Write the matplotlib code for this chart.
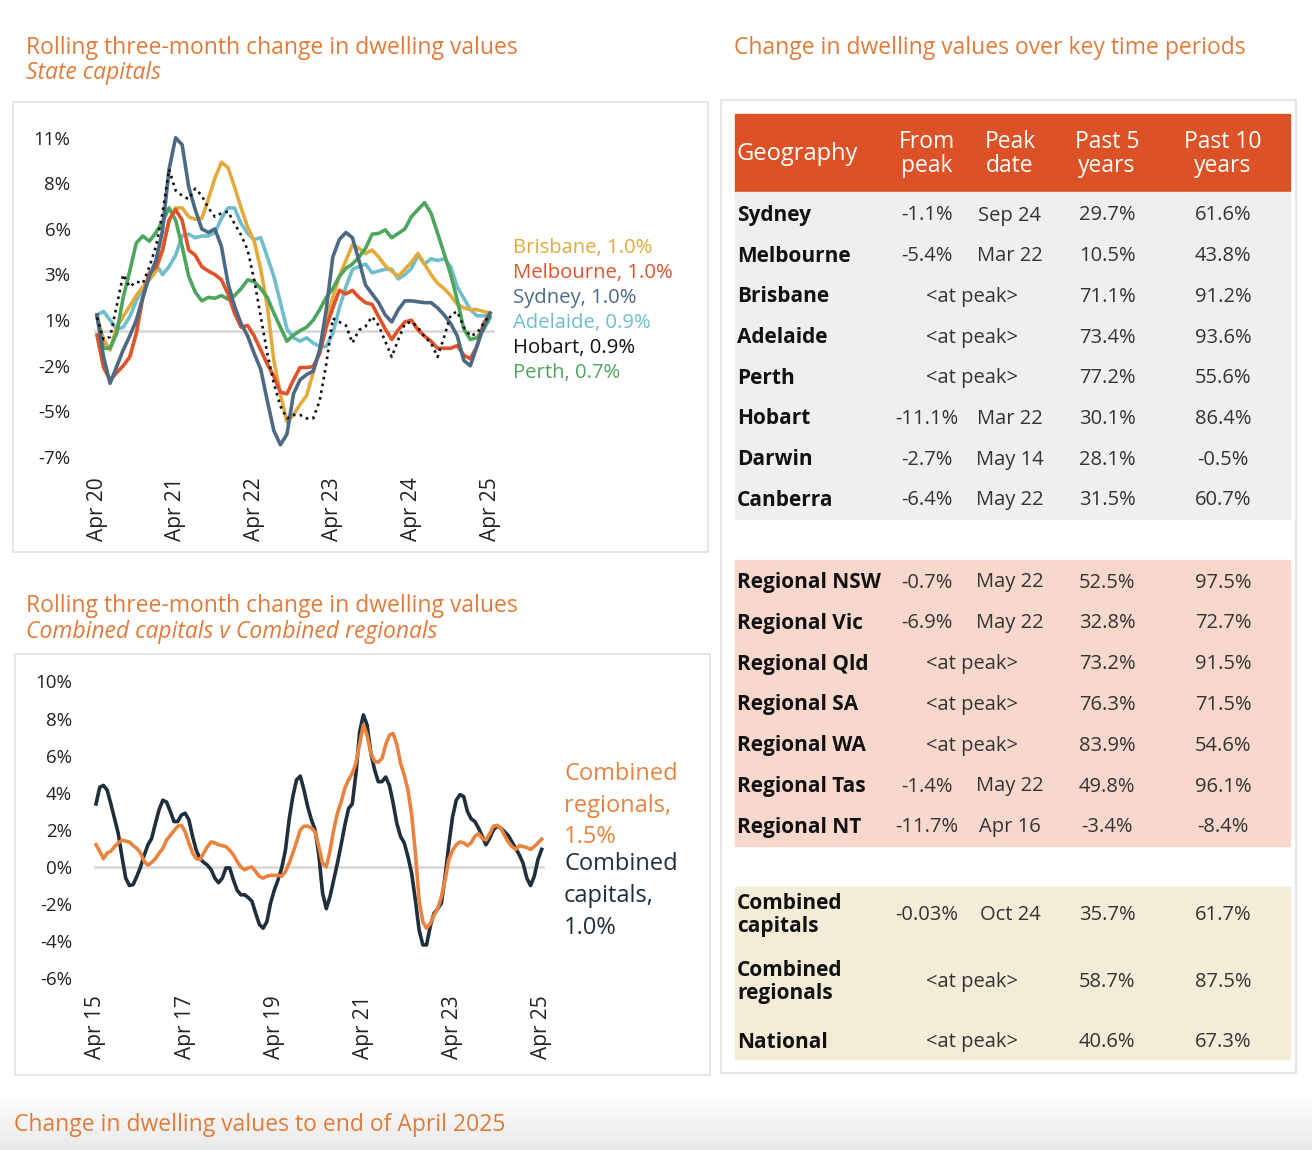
#!/usr/bin/env python3
"""Dwelling value change dashboard: two line charts and a summary table."""

import numpy as np
import matplotlib
matplotlib.use("Agg")
import matplotlib.pyplot as plt
from matplotlib.patches import Rectangle

plt.rcParams["font.family"] = ["Open Sans", "DejaVu Sans"]

W, H = 1312, 1150
ORANGE = "#e27b3a"

# ---- State capitals, rolling 3-month change (%), monthly Apr 20 .. Apr 25
state_ticks = ["Apr 20", "Apr 21", "Apr 22", "Apr 23", "Apr 24", "Apr 25"]
sydney = [0.9, -1.5, -3.0, -2.05, -1.1, -0.3, 0.6, 1.9, 3.1, 4.0, 5.7, 9.2, 11.0, 10.6,
          8.2, 6.9, 5.8, 5.6, 5.8, 4.8, 2.7, 1.4, 0.4, -0.3, -1.3, -2.2, -4.0, -5.7, -6.5,
          -5.9, -3.6, -2.8, -2.5, -2.3, -1.1, 1.2, 4.2, 5.2, 5.6, 5.3, 4.0, 2.6, 2.1, 1.6,
          0.9, 0.5, 1.2, 1.7, 1.7, 1.65, 1.6, 1.6, 1.3, 0.9, 0.4, -0.3, -1.7, -2.0, -0.9,
          0.2, 1.0]
melbourne = [-0.25, -2.1, -2.8, -2.4, -2.0, -1.5, -0.15, 1.9, 3.3, 3.6, 4.6, 6.3, 6.9, 6.3,
             4.6, 4.3, 3.65, 3.4, 3.2, 2.9, 2.1, 1.0, 0.2, 0.3, -0.3, -1.1, -1.9, -2.6, -3.5,
             -3.6, -2.8, -2.1, -2.1, -2.05, -1.3, 0.2, 1.3, 2.3, 2.1, 2.3, 1.9, 1.6, 1.5, 0.8,
             0.1, -0.5, 0.05, 0.5, 0.6, 0.05, -0.3, -0.6, -1.0, -1.0, -1.0, -0.85, -1.4, -1.6,
             -0.9, 0.4, 1.0]
brisbane = [0.8, -0.5, -1.1, 0.2, 0.8, 1.4, 2.0, 2.5, 2.9, 3.4, 4.6, 6.3, 7.0, 7.0, 6.5,
            6.35, 6.4, 7.5, 8.7, 9.6, 9.3, 8.2, 7.0, 5.9, 5.1, 3.5, 1.4, -1.7, -3.6, -5.2,
            -4.8, -4.2, -3.7, -2.4, -1.1, 0.6, 1.9, 3.1, 4.0, 4.9, 4.7, 4.4, 4.6, 4.2, 3.7,
            3.4, 3.1, 3.5, 3.9, 4.4, 3.8, 3.2, 2.7, 2.4, 2.0, 1.5, 1.3, 1.2, 1.2, 1.1, 1.0]
adelaide = [0.9, 1.1, 0.6, 0.1, 0.2, 0.8, 1.7, 2.4, 3.1, 3.8, 3.2, 3.65, 4.3, 5.4, 5.5,
            5.3, 5.4, 5.4, 5.6, 6.4, 7.0, 7.0, 6.1, 5.55, 5.2, 5.3, 4.2, 3.1, 1.6, 0.1, -0.4,
            -0.6, -0.4, -0.7, -0.9, -0.9, -0.15, 1.3, 2.5, 3.5, 3.65, 3.8, 3.3, 3.4, 3.5, 3.5,
            2.95, 3.2, 3.55, 4.3, 3.8, 4.1, 4.0, 4.1, 3.65, 2.5, 1.85, 1.2, 0.85, 0.85, 0.9]
hobart = [0.75, -0.5, -0.35, 1.4, 3.2, 2.5, 2.8, 2.7, 3.65, 4.8, 6.7, 9.2, 8.0, 7.7, 7.5,
          8.1, 7.7, 7.0, 6.5, 6.7, 6.8, 6.1, 5.45, 4.6, 2.9, 0.8, -1.3, -3.0, -4.3, -5.0,
          -4.8, -4.8, -5.0, -5.0, -4.0, -1.9, 0.7, 0.5, 0.3, -0.7, 0.04, 0.25, 0.8, 0.3,
          -0.6, -1.5, -0.5, 0.4, 0.5, 0.2, -0.35, -0.7, -1.5, -0.35, 0.9, 1.1, 0.2, -0.3,
          -0.15, 0.4, 0.9]
perth = [0.8, -1.0, -1.0, -0.15, 1.9, 3.4, 5.0, 5.4, 5.1, 5.6, 6.2, 7.0, 6.3, 4.8, 3.1,
         2.2, 1.7, 1.9, 1.85, 2.0, 1.8, 2.0, 2.4, 2.9, 2.8, 2.4, 1.9, 1.0, 0.2, -0.6, -0.25,
         0.0, 0.2, 0.6, 1.2, 1.9, 2.4, 3.1, 3.55, 3.8, 4.2, 4.7, 5.5, 5.55, 5.75, 5.3, 5.55,
         5.8, 6.5, 6.9, 7.3, 6.7, 5.55, 4.4, 3.2, 1.75, 0.1, -0.5, -0.4, 0.05, 0.75]

state_series = [
    ("Brisbane, 1.0%", brisbane, "#e3aa3c", "-"),
    ("Melbourne, 1.0%", melbourne, "#e0522a", "-"),
    ("Sydney, 1.0%", sydney, "#4d6a85", "-"),
    ("Adelaide, 0.9%", adelaide, "#70bdcc", "-"),
    ("Hobart, 0.9%", hobart, "#111111", ":"),
    ("Perth, 0.7%", perth, "#4ea55d", "-"),
]

# ---- Combined capitals v combined regionals, monthly Apr 15 .. Apr 25
combo_ticks = ["Apr 15", "Apr 17", "Apr 19", "Apr 21", "Apr 23", "Apr 25"]
capitals = [3.4, 4.3, 4.4, 4.15, 3.4, 2.6, 1.8, 0.55, -0.6, -1.0, -0.95, -0.5, 0.0, 0.65,
            1.2, 1.55, 2.35, 3.1, 3.6, 3.5, 3.0, 2.45, 2.45, 2.8, 2.9, 2.55, 1.65, 0.9, 0.45,
            0.25, 0.1, -0.15, -0.6, -0.85, -0.6, -0.05, -0.05, -0.7, -1.25, -1.5, -1.5, -1.65,
            -1.85, -2.5, -3.1, -3.3, -2.95, -1.95, -1.25, -0.7, -0.05, 0.9, 2.55, 3.8, 4.7,
            4.9, 4.15, 3.25, 2.55, 2.0, 0.65, -1.4, -2.25, -1.6, -0.7, 0.2, 1.2, 2.25, 3.15,
            3.4, 5.05, 7.3, 8.2, 7.65, 6.15, 5.25, 4.6, 4.6, 4.85, 4.4, 3.45, 2.35, 1.65, 1.3,
            0.55, -0.35, -1.8, -3.4, -4.2, -4.2, -3.2, -2.5, -2.25, -1.95, -0.5, 1.2, 2.7, 3.6,
            3.9, 3.8, 3.0, 2.6, 2.45, 2.1, 1.65, 1.2, 1.55, 2.0, 2.2, 2.1, 1.9, 1.7, 1.35, 1.0,
            0.65, 0.2, -0.6, -1.0, -0.5, 0.4, 0.95]
regionals = [1.2, 0.85, 0.45, 0.75, 0.85, 1.1, 1.3, 1.45, 1.4, 1.35, 1.15, 1.0, 0.75, 0.3,
             0.1, 0.25, 0.45, 0.75, 1.0, 1.45, 1.7, 1.95, 2.2, 2.25, 1.9, 1.3, 0.75, 0.45, 0.4,
             0.75, 1.1, 1.35, 1.3, 1.2, 1.15, 1.1, 0.9, 0.65, 0.3, 0.0, -0.15, -0.05, 0.0,
             -0.25, -0.5, -0.6, -0.5, -0.45, -0.45, -0.45, -0.5, -0.25, 0.2, 0.75, 1.35, 2.0,
             2.2, 2.2, 2.1, 1.9, 1.1, 0.2, 0.0, 0.85, 2.0, 2.9, 3.5, 4.25, 4.7, 5.05, 5.6, 6.65,
             7.65, 7.1, 6.15, 5.7, 5.65, 5.85, 6.6, 7.1, 7.2, 6.6, 5.6, 4.95, 4.15, 2.8, 0.75,
             -1.8, -2.95, -3.3, -3.05, -2.6, -2.25, -1.6, -0.7, 0.4, 0.9, 1.2, 1.35, 1.3, 1.15,
             1.3, 1.65, 1.8, 1.55, 1.45, 1.8, 2.2, 2.25, 2.1, 1.7, 1.35, 1.1, 0.95, 1.15, 1.1,
             1.05, 0.95, 1.1, 1.3, 1.5]

# ---- Table
table_header = ["Geography", "From\npeak", "Peak\ndate", "Past 5\nyears", "Past 10\nyears"]
capital_rows = [
    ("Sydney", "-1.1%", "Sep 24", "29.7%", "61.6%"),
    ("Melbourne", "-5.4%", "Mar 22", "10.5%", "43.8%"),
    ("Brisbane", None, None, "71.1%", "91.2%"),
    ("Adelaide", None, None, "73.4%", "93.6%"),
    ("Perth", None, None, "77.2%", "55.6%"),
    ("Hobart", "-11.1%", "Mar 22", "30.1%", "86.4%"),
    ("Darwin", "-2.7%", "May 14", "28.1%", "-0.5%"),
    ("Canberra", "-6.4%", "May 22", "31.5%", "60.7%"),
]
regional_rows = [
    ("Regional NSW", "-0.7%", "May 22", "52.5%", "97.5%"),
    ("Regional Vic", "-6.9%", "May 22", "32.8%", "72.7%"),
    ("Regional Qld", None, None, "73.2%", "91.5%"),
    ("Regional SA", None, None, "76.3%", "71.5%"),
    ("Regional WA", None, None, "83.9%", "54.6%"),
    ("Regional Tas", "-1.4%", "May 22", "49.8%", "96.1%"),
    ("Regional NT", "-11.7%", "Apr 16", "-3.4%", "-8.4%"),
]
combined_rows = [
    ("Combined\ncapitals", "-0.03%", "Oct 24", "35.7%", "61.7%"),
    ("Combined\nregionals", None, None, "58.7%", "87.5%"),
    ("National", None, None, "40.6%", "67.3%"),
]


def px_axes(fig, x0, y0, x1, y1):
    return fig.add_axes([x0 / W, 1 - y1 / H, (x1 - x0) / W, (y1 - y0) / H])


def clean_axes(ax):
    for s in ax.spines.values():
        s.set_visible(False)
    ax.tick_params(length=0, labelsize=13.5, colors="#222222")


def draw_state_chart(fig):
    # month m sits at x = 97 + 6.55 m px; value v at y = 330.7 - 17.54 v px
    ax = px_axes(fig, 90, 120, 497, 470)
    clean_axes(ax)
    ax.set_xlim((90 - 97) / 6.55, (497 - 97) / 6.55)
    ax.set_ylim((330.7 - 470) / 17.54, (330.7 - 120) / 17.54)
    ax.plot([-0.3, 60.4], [0, 0], color="#d9d9d9", lw=2, zorder=1)
    months = np.arange(len(sydney))
    for name, vals, col, ls in [state_series[4], state_series[3], state_series[0],
                                state_series[5], state_series[1], state_series[2]]:
        if ls == ":":
            ax.plot(months, vals, color=col, lw=1.9, ls=(0, (1, 1.6)), zorder=3)
        else:
            ax.plot(months, vals, color=col, lw=2.6, zorder=2)
    yt = [-7.19, -4.59, -1.99, 0.61, 3.21, 5.81, 8.41, 11.01]
    ax.set_yticks(yt)
    ax.set_yticklabels([f"{v:.0f}%" for v in yt])
    ax.set_xticks(np.arange(0, 61, 12))
    ax.set_xticklabels(state_ticks, rotation=90, fontsize=15)
    ax.tick_params(axis="y", pad=14)
    ax.tick_params(axis="x", pad=5)
    for i, (name, vals, col, ls) in enumerate(state_series):
        fig.text(513 / W, 1 - (248 + i * 25) / H, name, color=col, fontsize=14.6,
                 va="center", ha="left")


def draw_combo_chart(fig):
    # month m sits at x = 96 + 3.714 m px; value v at y = 867 - 18.55 v px
    ax = px_axes(fig, 90, 665, 548, 990)
    clean_axes(ax)
    ax.set_xlim((90 - 96) / 3.714, (548 - 96) / 3.714)
    ax.set_ylim((867 - 990) / 18.55, (867 - 665) / 18.55)
    ax.plot([-0.3, 120.4], [0, 0], color="#d9d9d9", lw=2, zorder=1)
    months = np.arange(len(capitals))
    ax.plot(months, capitals, color="#1f2f3b", lw=2.6, zorder=2)
    ax.plot(months, regionals, color="#e8843f", lw=2.6, zorder=3)
    ax.set_yticks(np.arange(-6, 11, 2))
    ax.set_yticklabels([f"{v}%" for v in range(-6, 11, 2)])
    ax.set_xticks(np.arange(0, 121, 24))
    ax.set_xticklabels(combo_ticks, rotation=90, fontsize=15)
    ax.tick_params(axis="y", pad=13)
    ax.tick_params(axis="x", pad=4)
    for i, line in enumerate(["Combined", "regionals,", "1.5%"]):
        fig.text(564 / W, 1 - (774 + i * 31.5) / H, line, color="#e8843f", fontsize=17,
                 va="center", ha="left")
    for i, line in enumerate(["Combined", "capitals,", "1.0%"]):
        fig.text(564 / W, 1 - (864 + i * 32) / H, line, color="#1f2f3b", fontsize=17,
                 va="center", ha="left")


def draw_table(ov):
    cols = [927, 1010, 1107, 1223]
    ov.add_patch(Rectangle((735, 114), 555, 78, color="#dc5226", zorder=1))
    ov.text(737, 154, table_header[0], color="white", fontsize=17, va="center")
    for cx, lab in zip(cols, table_header[1:]):
        ov.text(cx, 154, lab, color="white", fontsize=16.5, va="center", ha="center",
                linespacing=1.05)

    def block(rows, top, bottom, y0, step, colour):
        ov.add_patch(Rectangle((735, top), 555, bottom - top, color=colour, zorder=1))
        for i, (name, frm, date, p5, p10) in enumerate(rows):
            y = y0[i] if isinstance(y0, list) else y0 + i * step
            ov.text(737, y, name, fontsize=15, fontweight="bold", va="center",
                    color="#111111", linespacing=1.15)
            if frm is None:
                ov.text(972, y, "<at peak>", fontsize=14.5, va="center", ha="center",
                        color="#333333")
            else:
                ov.text(cols[0], y, frm, fontsize=14.5, va="center", ha="center",
                        color="#333333")
                ov.text(cols[1], y, date, fontsize=14.5, va="center", ha="center",
                        color="#333333")
            ov.text(cols[2], y, p5, fontsize=14.5, va="center", ha="center", color="#333333")
            ov.text(cols[3], y, p10, fontsize=14.5, va="center", ha="center", color="#333333")

    block(capital_rows, 192, 519, 215.5, 40.7, "#efefef")
    block(regional_rows, 560, 846, 582.5, 40.8, "#f8d8cc")
    block(combined_rows, 887, 1059, [915, 982, 1042], 0, "#f5ecd8")


def main():
    fig = plt.figure(figsize=(W / 100, H / 100), dpi=100)
    fig.patch.set_facecolor("white")

    ov = fig.add_axes([0, 0, 1, 1])
    ov.axis("off")

    # faint grey fade along the bottom edge
    grad = np.linspace(1.0, 0.91, 60)[:, None] * np.ones((1, 2))
    ov.imshow(grad, extent=(0, W, H, 1090), cmap="gray", vmin=0, vmax=1,
              aspect="auto", zorder=0)
    ov.set_xlim(0, W)
    ov.set_ylim(H, 0)

    # panel frames
    for x0, y0, x1, y1 in [(13, 102, 708, 552), (15, 654, 710, 1075), (721, 100, 1296, 1073)]:
        ov.add_patch(Rectangle((x0, y0), x1 - x0, y1 - y0, facecolor="white",
                               edgecolor="#e2e2e2", lw=1.2, zorder=0.5))

    tsize = 16.5
    ov.text(26, 48, "Rolling three-month change in dwelling values", color=ORANGE,
            fontsize=tsize, va="center")
    ov.text(26, 73, "State capitals", color=ORANGE, fontsize=tsize, style="italic",
            va="center")
    ov.text(26, 606, "Rolling three-month change in dwelling values", color=ORANGE,
            fontsize=tsize, va="center")
    ov.text(26, 632, "Combined capitals v Combined regionals", color=ORANGE, fontsize=tsize,
            style="italic", va="center")
    ov.text(734, 48, "Change in dwelling values over key time periods", color=ORANGE,
            fontsize=tsize, va="center")
    ov.text(14, 1125, "Change in dwelling values to end of April 2025", color=ORANGE,
            fontsize=tsize, va="center")

    draw_table(ov)
    draw_state_chart(fig)
    draw_combo_chart(fig)

    fig.savefig("out.png", dpi=100)
    plt.close(fig)


if __name__ == "__main__":
    main()
